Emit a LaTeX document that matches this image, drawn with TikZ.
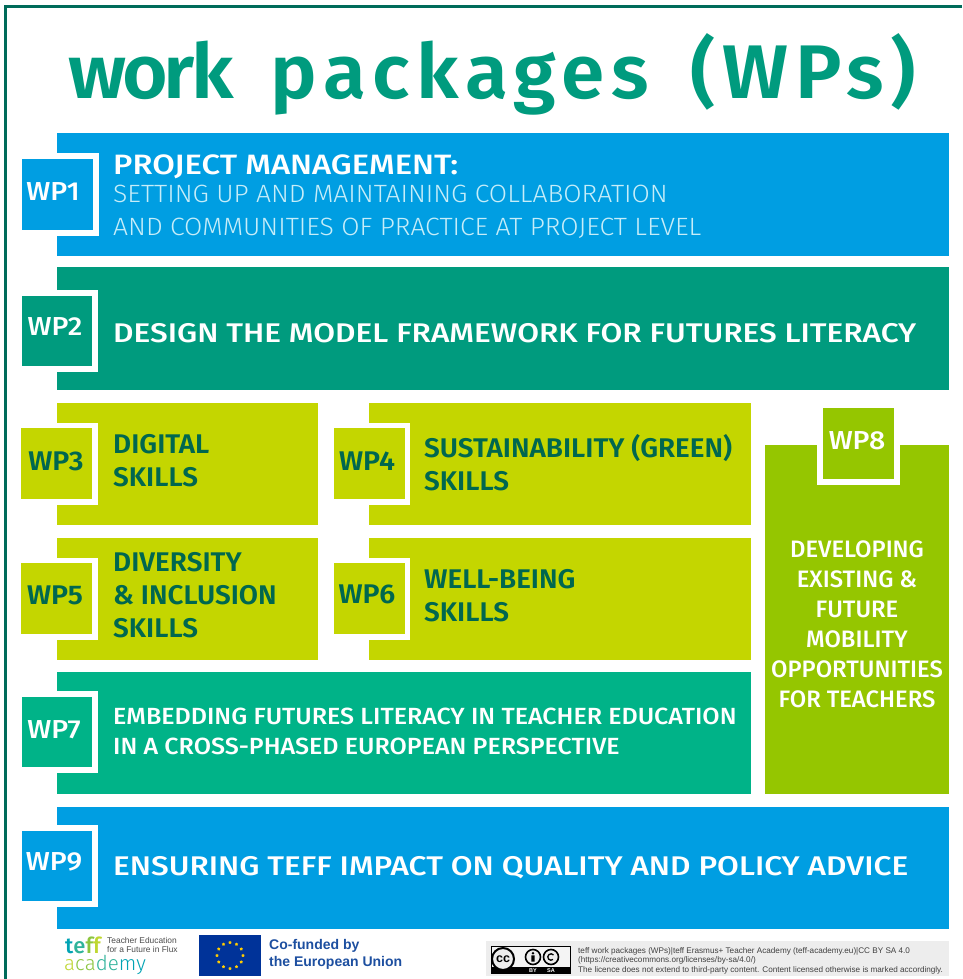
\documentclass[tikz,border=0pt]{standalone}
\usepackage{fontspec}
\usetikzlibrary{shapes.geometric,calc}
\setmainfont{Fira Sans}
\newfontfamily\titlefont[LetterSpace=9,FakeStretch=1.03]{Fira Sans SemiBold}
\newfontfamily\medfont{Fira Sans Medium}
\newfontfamily\medwide[FakeStretch=1.17]{Fira Sans Medium}
\newfontfamily\medmid[FakeStretch=1.07]{Fira Sans Medium}
\newfontfamily\boldmid[FakeStretch=1.03]{Fira Sans SemiBold}
\newfontfamily\labelwhite[FakeStretch=1.1]{Fira Sans Medium}
\newfontfamily\labeldark[FakeStretch=1.06]{Fira Sans SemiBold}
\newfontfamily\lightfont[FakeStretch=1.06]{Fira Sans Light}
\newfontfamily\logofont{Liberation Sans}
\newfontfamily\teffbold{Fira Sans Medium}
\newfontfamily\tefflight{Fira Sans Light}
\definecolor{wpblue}{HTML}{009EE2}
\definecolor{wpteal}{HTML}{009B7E}
\definecolor{wplime}{HTML}{C4D600}
\definecolor{wpgreen}{HTML}{00B388}
\definecolor{wpleaf}{HTML}{95C600}
\definecolor{wpdark}{HTML}{00674F}
\definecolor{framegreen}{HTML}{006B5A}
\definecolor{eublue}{HTML}{003399}
\definecolor{euyellow}{HTML}{FFCC00}
\definecolor{linkblue}{HTML}{1D4FA0}
\definecolor{ccgray}{HTML}{EDEDED}
\definecolor{subcyan}{HTML}{C6EDF9}
\definecolor{teffa}{HTML}{00A3B4}
\definecolor{teffb}{HTML}{2FB39A}
\definecolor{teffc}{HTML}{8CC63F}
\definecolor{teffd}{HTML}{BFD730}
\tikzset{
  x=1pt,y=-1pt,
  band/.style={fill=#1,draw=none},
  wplabel/.style={font=\labelwhite\fontsize{26}{26}\selectfont,text=white,inner sep=0pt,anchor=center},
  wpdarklabel/.style={font=\labeldark\fontsize{27}{27}\selectfont,text=wpdark,inner sep=0pt,anchor=center},
  head/.style={font=\medwide\fontsize{27}{33}\selectfont,text=white,inner sep=0pt,anchor=west,align=left},
  limehead/.style={font=\boldmid\fontsize{27}{33}\selectfont,text=wpdark,inner sep=0pt,anchor=west,align=left},
  subhead/.style={font=\lightfont\fontsize{25}{33}\selectfont,text=subcyan,inner sep=0pt,anchor=west,align=left},
  small/.style={font=\logofont\fontsize{8.15}{9.6}\selectfont,text=black!75,inner sep=0pt,anchor=west,align=left},
}
\begin{document}
\begin{tikzpicture}
\useasboundingbox (0,0) rectangle (962,979);
\fill[white] (0,0) rectangle (962,979);
\draw[framegreen,line width=3pt] (5.5,979) -- (5.5,6.5) -- (962,6.5);
\node[font=\titlefont\fontsize{76}{76}\selectfont,text=wpteal,inner sep=0pt,anchor=base west] (title) at (68,99) {w\kern-4pt o\kern-4pt r\kern-4pt k\kern11pt\ packages\kern15pt\ (WPs)};

\fill[band=wpblue] (57,133) rectangle (949,256);
\fill[band=wpteal] (57,267) rectangle (949,390);
\fill[band=wplime] (57,403) rectangle (318,525);
\fill[band=wplime] (369,403) rectangle (751,525);
\fill[band=wplime] (57,538) rectangle (318,660);
\fill[band=wplime] (369,538) rectangle (751,660);
\fill[band=wpgreen] (57,672) rectangle (751,794);
\fill[band=wpleaf] (765,445) rectangle (949,794);
\fill[band=wpblue] (57,807) rectangle (949,929);

% badges
\fill[white] (22,153) rectangle (99,236);
\fill[wpblue] (22,159) rectangle (93,230);
\node[wplabel] (wp1) at (53,192) {WP1};
\fill[white] (22,290) rectangle (98,372);
\fill[wpteal] (22,296) rectangle (92,366);
\node[wplabel] (wp2) at (55,327) {WP2};
\fill[white] (21,423) rectangle (98,505);
\fill[wplime] (21,428) rectangle (92,499);
\node[wpdarklabel] (wp3) at (56,461) {WP3};
\fill[white] (334,423) rectangle (410,505);
\fill[wplime] (334,428) rectangle (405,499);
\node[wpdarklabel] (wp4) at (367,461) {WP4};
\fill[white] (21,558) rectangle (98,640);
\fill[wplime] (21,563) rectangle (92,634);
\node[wpdarklabel] (wp5) at (55,595) {WP5};
\fill[white] (334,558) rectangle (410,640);
\fill[wplime] (334,563) rectangle (405,634);
\node[wpdarklabel] (wp6) at (367,594) {WP6};
\fill[white] (22,691) rectangle (98,773);
\fill[wpgreen] (22,697) rectangle (92,767);
\node[wplabel] (wp7) at (54,730) {WP7};
\fill[white] (817,408) rectangle (900,485);
\fill[wpleaf] (823,408) rectangle (894,479);
\node[wplabel] (wp8) at (857,441) {WP8};
\fill[white] (22,825) rectangle (98,907);
\fill[wpblue] (22,831) rectangle (92,901);
\node[wplabel] (wp9) at (54,862) {WP9};

% band text
\node[head,font=\medwide\fontsize{28}{33}\selectfont] (t1a) at (113,167) {PROJECT MANAGEMENT:};
\node[subhead] (t1b) at (113,212) {SETTING UP AND MAINTAINING COLLABORATION\\AND COMMUNITIES OF PRACTICE AT PROJECT LEVEL};
\node[head] (t2) at (113,333) {DESIGN THE MODEL FRAMEWORK FOR FUTURES LITERACY};
\node[limehead] (t3) at (113,461) {DIGITAL\\SKILLS};
\node[limehead] (t4) at (424,463) {SUSTAINABILITY (GREEN)\\SKILLS};
\node[limehead] (t5) at (113,595) {DIVERSITY\\\& INCLUSION\\SKILLS};
\node[limehead] (t6) at (424,596) {WELL-BEING\\SKILLS};
\node[head,font=\medmid\fontsize{23.4}{30}\selectfont] (t7) at (113,731) {EMBEDDING FUTURES LITERACY IN TEACHER EDUCATION\\IN A CROSS-PHASED EUROPEAN PERSPECTIVE};
\node[head,align=center,anchor=center,font=\medfont\fontsize{23.8}{30}\selectfont] (t8) at (857,624) {DEVELOPING\\EXISTING \&\\FUTURE\\MOBILITY\\OPPORTUNITIES\\FOR TEACHERS};
\node[head] (t9) at (113,868) {ENSURING TEFF IMPACT ON QUALITY AND POLICY ADVICE};

% footer: teff logo
\node[font=\teffbold\fontsize{22}{22}\selectfont,inner sep=0pt,anchor=base west,text depth=0pt,text height=14pt] (teff) at (65,953) {\textcolor{teffa}{t}\textcolor{teffb}{e}\textcolor{teffc}{f}\textcolor{teffd}{f}};
\node[font=\tefflight\fontsize{20.5}{20.5}\selectfont,inner sep=0pt,anchor=base west,text height=14pt] (acad) at (64,970.5) {\textcolor{teffd}{a}\textcolor{teffc}{c}\textcolor{teffc}{a}\textcolor{teffb}{d}\textcolor{teffb}{e}\textcolor{teffa}{m}\textcolor{teffa}{y}};
\node[font=\logofont\fontsize{8.4}{9.2}\selectfont,text=black!70,inner sep=0pt,anchor=west,align=left] (teffsub) at (107,945) {Teacher Education\\for a Future in Flux};
% EU flag
\fill[eublue] (199,935) rectangle (261,976);
\foreach \a in {0,30,...,330}
  \node[star,star points=5,fill=euyellow,inner sep=0pt,minimum size=3.4pt] at ($(230,955.5)+(\a:13)$) {};
\node[font=\logofont\bfseries\fontsize{14}{17}\selectfont,text=linkblue,inner sep=0pt,anchor=west,align=left] (cofund) at (269,954.5) {Co-funded by\\the European Union};
% licence
\fill[ccgray] (486,941) rectangle (949,976);
\fill[black] (491,946) rectangle (571,974);
\fill[ccgray!60] (492,947) rectangle (570,967);
\node[circle,draw=black,fill=ccgray,line width=2pt,minimum size=22pt,inner sep=0pt,font=\logofont\bfseries\fontsize{12.5}{12.5}\selectfont] (cc) at (503,959) {cc};
\node[circle,draw=black,fill=ccgray,line width=1.6pt,minimum size=15pt,inner sep=0pt] (by) at (533,957) {};
\node[circle,draw=black,fill=ccgray,line width=1.6pt,minimum size=15pt,inner sep=0pt] (sa) at (551,957) {};
\fill[black] (533,953.3) circle (1.4) (531.3,955.3) rectangle (534.7,961.5);
\draw[black,line width=1.3pt] (sa.center) ++(50:3.2) arc[start angle=50,end angle=320,radius=3.2];
\node[font=\logofont\bfseries\fontsize{5.5}{5.5}\selectfont,text=white,inner sep=0pt] (bytxt) at (533,970.5) {BY};
\node[font=\logofont\bfseries\fontsize{5.5}{5.5}\selectfont,text=white,inner sep=0pt] (satxt) at (551,970.5) {SA};
\node[small] (lic) at (578,960.5) {teff work packages (WPs)|teff Erasmus+ Teacher Academy (teff-academy.eu)|CC BY SA 4.0\\(https://creativecommons.org/licenses/by-sa/4.0/)\\The licence does not extend to third-party content. Content licensed otherwise is marked accordingly.};
\end{tikzpicture}
\end{document}
